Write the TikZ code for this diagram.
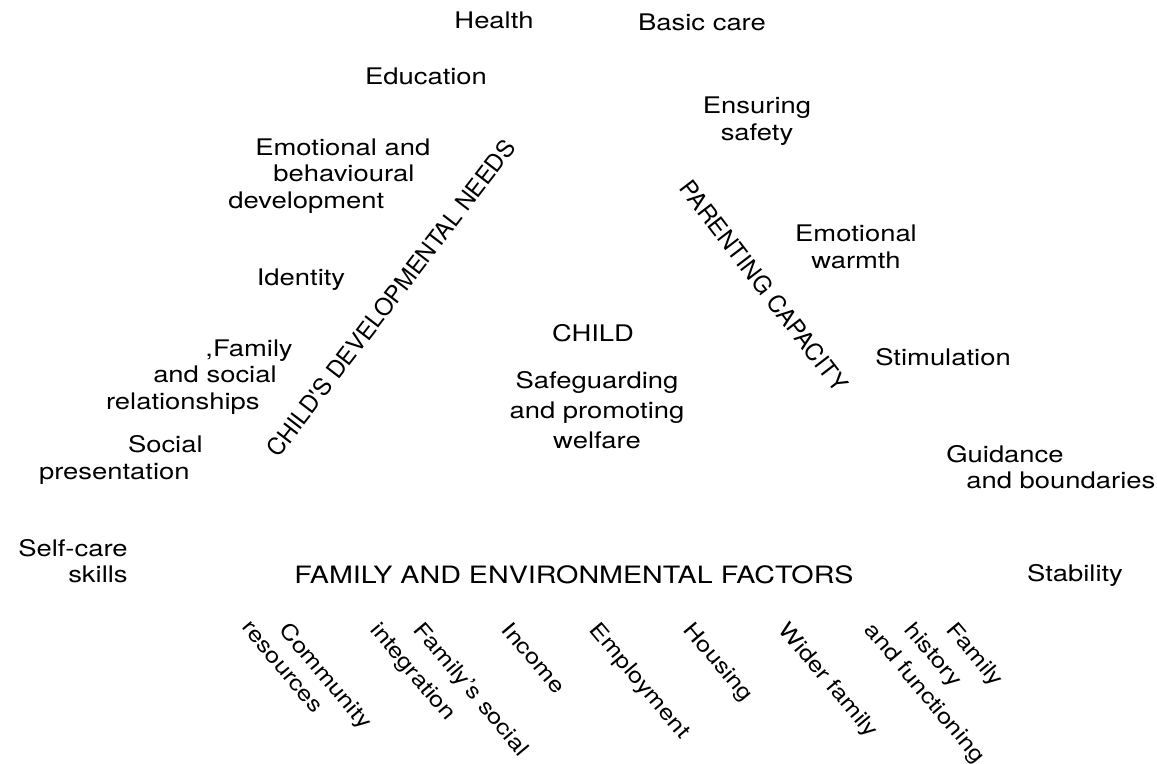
\documentclass[tikz,border=0pt]{standalone}
\usepackage{fontspec}
\setmainfont[FakeStretch=1.2]{TeX Gyre Heros}
\newfontfamily\diagfont{TeX Gyre Heros}
\usetikzlibrary{positioning}

\begin{document}
\begin{tikzpicture}[x=0.02cm, y=-0.02cm, inner sep=0pt,
      font=\fontsize{13}{15}\selectfont,
      need/.style={align=center},
      sidetitle/.style={font=\diagfont\fontsize{13.5}{15}\selectfont},
      factor/.style={rotate=-50, anchor=north west,
        font=\fontsize{12.2}{14}\selectfont}]
      \useasboundingbox (0,0) rectangle (1157,764);
      % child's developmental needs
      \node[need] (health) at(494,20) {Health};
      \node[need] (educ) at(426,76) {Education};
      \node[anchor=west, align=left] (emo) at(228,176)
        {\hspace*{0.54cm}Emotional and\\\hspace*{0.9cm}behavioural\\development};
      \node[need] (ident) at(301,280) {Identity};
      \node[anchor=east, align=right] (famrel) at(293,377)
        {,Family\\and social\kern0.32cm\\relationships\kern0.66cm};
      \node[anchor=east, align=right] (socpres) at(203,460)
        {Social\\presentation\kern0.26cm};
      \node[anchor=east, align=right] (selfcare) at(128,561) {Self-care\\skills};
      \node[sidetitle, rotate=52.5] (needs) at(391,298) {CHILD'S DEVELOPMENTAL NEEDS};
      % child
      \node[need] (child) at(593,333) {CHILD};
      \node[need, font=\fontsize{13}{17}\selectfont] (welfare) at(597,410)
        {Safeguarding\\and promoting\\welfare};
      % parenting capacity
      \node[need] (basic) at(702,22) {Basic care};
      \node[need] (safety) at(757,121) {Ensuring\\safety};
      \node[need] (warmth) at(856,247) {Emotional\\warmth};
      \node[need] (stim) at(943,357) {Stimulation};
      \node[anchor=west, align=left] (guide) at(946,467)
        {Guidance\\\hspace*{0.4cm}and boundaries};
      \node[need] (stab) at(1075,575) {Stability};
      \node[sidetitle, rotate=-52.5] (parent) at(764,286) {PARENTING CAPACITY};
      % family and environmental factors
      \node[need, font=\fontsize{13.6}{15}\selectfont] (family) at(574,575)
        {FAMILY AND ENVIRONMENTAL FACTORS};
      \node[factor] (comm_1) at(291,620) {Community};
      \node[factor] (comm_2) at(250,620) {resources};
      \node[factor] (integ_1) at(425,620) {Family's social};
      \node[factor] (integ_2) at(381,620) {integration};
      \node[factor] (income) at(513,620) {Income};
      \node[factor] (employ) at(601,620) {Employment};
      \node[factor] (housing) at(695,620) {Housing};
      \node[factor] (wider) at(790,620) {Wider family};
      \node[factor] (hist_1) at(958,620) {Family};
      \node[factor] (hist_2) at(916,620) {history};
      \node[factor] (hist_3) at(876,620) {and functioning};
\end{tikzpicture}
\end{document}
